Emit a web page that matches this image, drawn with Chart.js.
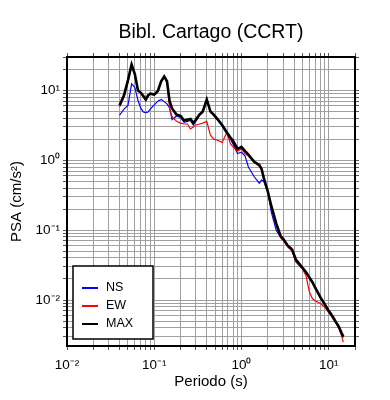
<!DOCTYPE html>
<html>
<head>
<meta charset="utf-8">
<script src="https://cdn.jsdelivr.net/npm/chart.js@4.4.1/dist/chart.umd.min.js"></script>
<style>
  body { margin: 0; background: #fff; }
  canvas { display: block; }
</style>
</head>
<body>
<canvas id="psaChart" width="390" height="400"></canvas>
<script>
const titulo = 'Bibl. Cartago (CCRT)';

// periodos (s)
const periodos = [0.04, 0.045, 0.05, 0.055, 0.06, 0.065, 0.07, 0.075, 0.08, 0.085, 0.09, 0.1,
  0.11, 0.12, 0.13, 0.14, 0.15, 0.16, 0.18, 0.2, 0.22, 0.24, 0.26, 0.28, 0.3, 0.33, 0.36, 0.4,
  0.44, 0.48, 0.52, 0.6, 0.68, 0.75, 0.8, 0.9, 1.0, 1.1, 1.2, 1.4, 1.6, 1.7, 1.8, 2.0, 2.2,
  2.5, 2.8, 3.0, 3.4, 3.8, 4.2, 4.6, 5.0, 5.5, 6.0, 6.5, 7.0, 8.0, 9.0, 10, 11, 12, 13, 14, 14.7];

// PSA (cm/s2) por componente
const psaNS = [4.4, 5.4, 6.1, 12.4, 11.0, 7.2, 5.6, 4.9, 4.8, 4.9, 5.4, 6.2,
  7.0, 7.4, 6.9, 6.4, 5.6, 3.8, 4.3, 4.1, 3.5, 3.6, 3.7, 3.2, 3.6, 4.4, 4.8, 7.3,
  4.9, 4.4, 3.9, 3.1, 2.4, 2.0, 1.7, 1.25, 1.3, 1.15, 0.8, 0.58, 0.47, 0.52, 0.5, 0.36, 0.18,
  0.1, 0.08, 0.072, 0.06, 0.052, 0.035, 0.031, 0.028, 0.024, 0.021, 0.018, 0.015, 0.011, 0.0087, 0.0070, 0.0058, 0.0048, 0.0041, 0.0034, 0.0029];
const psaEW = [5.8, 8.0, 13, 22, 17, 9.8, 9.0, 8.0, 7.2, 8.2, 8.8, 8.5,
  9.6, 13.3, 15.5, 13, 5.5, 4.2, 3.6, 3.4, 3.3, 3.3, 2.8, 3.0, 3.2, 3.3, 3.4, 3.6,
  2.3, 2.0, 1.95, 1.8, 2.5, 1.7, 1.55, 1.35, 1.45, 1.25, 1.15, 0.93, 0.82, 0.73, 0.56, 0.36, 0.215,
  0.12, 0.078, 0.072, 0.057, 0.05, 0.036, 0.032, 0.028, 0.022, 0.013, 0.0105, 0.0097, 0.009, 0.0079, 0.0066, 0.0056, 0.0047, 0.0040, 0.0031, 0.0025];
const psaMAX = [6.1, 8.5, 14, 23.5, 17, 10, 9.3, 8.3, 7.4, 8.5, 9.0, 8.7,
  9.8, 13.5, 15.8, 13.5, 7.0, 5.5, 4.5, 4.3, 3.7, 3.8, 3.9, 3.4, 3.8, 4.5, 5.0, 7.4,
  5.0, 4.5, 4.0, 3.2, 2.5, 2.1, 1.9, 1.45, 1.55, 1.35, 1.2, 0.95, 0.86, 0.75, 0.56, 0.36, 0.22,
  0.125, 0.083, 0.075, 0.06, 0.053, 0.038, 0.033, 0.029, 0.025, 0.021, 0.018, 0.015, 0.011, 0.0087, 0.0070, 0.0059, 0.0049, 0.0042, 0.0034, 0.0030];

// etiquetas de las decadas
const potencias = [0.01, 0.1, 1, 10];
const etiquetas = ['10\u207B\u00B2', '10\u207B\u00B9', '10\u2070', '10\u00B9'];

const fuente = '"Liberation Sans", Arial, sans-serif';

function puntos(ys) {
  return periodos.map((t, i) => ({ x: t, y: ys[i] }));
}

// marcas 1..9 en cada decada
function ticksLog(scale) {
  const ticks = [];
  for (let e = -4; e <= 2; e++) {
    for (let m = 1; m <= 9; m++) {
      const v = m * Math.pow(10, e);
      if (v >= scale.min * 0.9999 && v <= scale.max * 1.0001) ticks.push({ value: v });
    }
  }
  scale.ticks = ticks;
}

function etiquetaLog(value) {
  const i = potencias.findIndex(p => Math.abs(p - value) / p < 1e-6);
  return i >= 0 ? etiquetas[i] : '';
}

const rejilla = { color: '#a0a0a0', lineWidth: 1, tickLength: 4, tickColor: '#555' };
const borde = { display: true, color: '#000', width: 2 };

const leyendaYTitulo = {
  id: 'leyendaYTitulo',
  afterDraw(chart) {
    const { ctx, chartArea: a } = chart;
    ctx.save();
    ctx.fillStyle = '#000';
    ctx.font = '19.5px ' + fuente;
    ctx.textAlign = 'center';
    ctx.textBaseline = 'middle';
    ctx.fillText(titulo, (a.left + a.right) / 2, a.top - 24);

    // leyenda
    const x0 = a.left + 6, w = 80, h = 73, y0 = a.bottom - 7 - h;
    ctx.fillStyle = '#fff';
    ctx.fillRect(x0, y0, w, h);
    ctx.strokeStyle = '#000';
    ctx.lineWidth = 1.5;
    ctx.strokeRect(x0, y0, w, h);
    ctx.font = '12.5px ' + fuente;
    ctx.textAlign = 'left';
    chart.data.datasets.forEach((ds, i) => {
      const y = y0 + 22 + i * 18;
      ctx.strokeStyle = ds.borderColor;
      ctx.lineWidth = 2;
      ctx.beginPath();
      ctx.moveTo(x0 + 9, y);
      ctx.lineTo(x0 + 25, y);
      ctx.stroke();
      ctx.fillStyle = '#000';
      ctx.fillText(ds.label, x0 + 33, y);
    });
    ctx.restore();
  }
};

new Chart(document.getElementById('psaChart'), {
  type: 'line',
  data: {
    datasets: [
      { label: 'NS', data: puntos(psaNS), borderColor: '#0000ff', borderWidth: 1.2, order: 2 },
      { label: 'EW', data: puntos(psaEW), borderColor: '#ff0000', borderWidth: 1.2, order: 1 },
      { label: 'MAX', data: puntos(psaMAX), borderColor: '#000000', borderWidth: 2.6, order: 0 }
    ]
  },
  options: {
    responsive: false,
    animation: false,
    layout: { padding: 0 },
    elements: { point: { radius: 0 }, line: { tension: 0 } },
    plugins: { legend: { display: false }, tooltip: { enabled: false } },
    scales: {
      x: {
        type: 'logarithmic', position: 'bottom', min: 0.01, max: 20,
        afterBuildTicks: ticksLog,
        afterFit: s => { s.height = 54; },
        grid: rejilla, border: borde,
        ticks: { callback: etiquetaLog, autoSkip: false, maxRotation: 0, padding: 7,
          color: '#000', font: { family: fuente, size: 13.5 } },
        title: { display: true, text: 'Periodo (s)', color: '#000',
          font: { family: fuente, size: 15 }, padding: { top: 0, bottom: 9 } }
      },
      y: {
        type: 'logarithmic', position: 'left', min: 0.0022, max: 30,
        afterBuildTicks: ticksLog,
        afterFit: s => { s.width = 67; },
        grid: rejilla, border: borde,
        ticks: { callback: etiquetaLog, autoSkip: false, padding: 3,
          color: '#000', font: { family: fuente, size: 13.5 } },
        title: { display: true, text: 'PSA (cm/s\u00B2)', color: '#000',
          font: { family: fuente, size: 15 }, padding: { top: 8, bottom: 0 } }
      },
      x2: {
        type: 'logarithmic', position: 'top', min: 0.01, max: 20,
        afterBuildTicks: ticksLog,
        afterFit: s => { s.height = 57; },
        grid: Object.assign({}, rejilla, { drawOnChartArea: false }), border: borde,
        ticks: { display: false }
      },
      y2: {
        type: 'logarithmic', position: 'right', min: 0.0022, max: 30,
        afterBuildTicks: ticksLog,
        afterFit: s => { s.width = 35; },
        grid: Object.assign({}, rejilla, { drawOnChartArea: false }), border: borde,
        ticks: { display: false }
      }
    }
  },
  plugins: [leyendaYTitulo]
});
</script>
</body>
</html>
